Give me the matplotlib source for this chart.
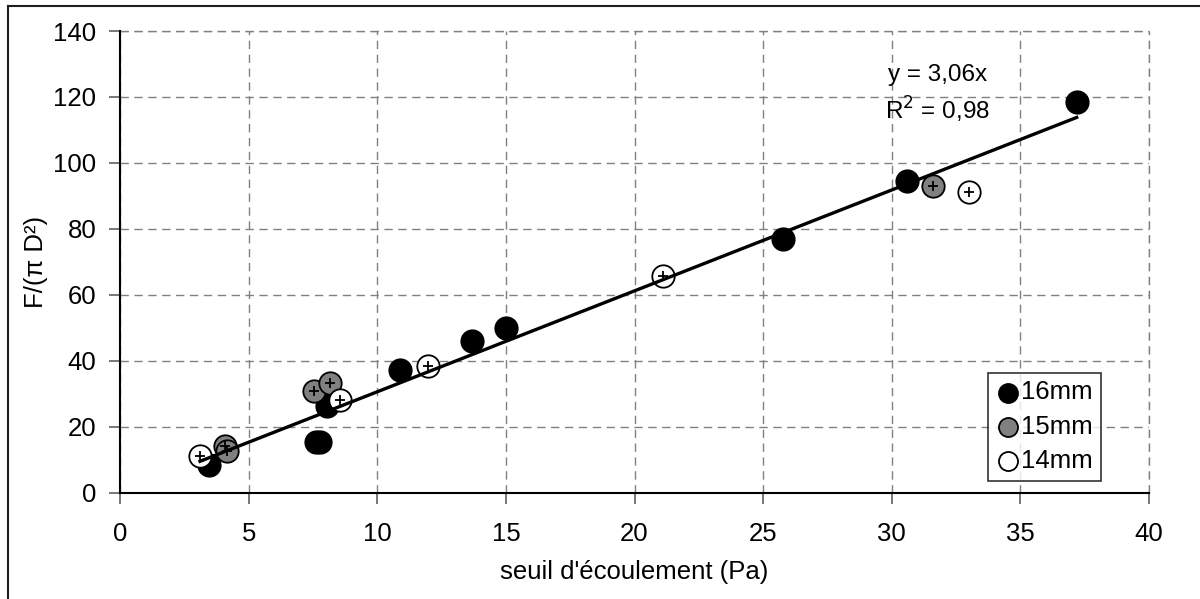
import matplotlib
matplotlib.use("Agg")
import matplotlib.pyplot as plt
from matplotlib.lines import Line2D
import numpy as np

plt.rcParams['font.family'] = ['Liberation Sans', 'DejaVu Sans']

# 16mm (black)
x16 = [3.47, 7.63, 7.79, 8.04, 10.89, 13.70, 15.00, 25.77, 30.59, 37.19]
y16 = [8.5, 15.4, 15.4, 26.2, 37.3, 45.9, 49.9, 76.9, 94.5, 118.6]
# 15mm (grey)
x15 = [4.09, 4.15, 7.54, 8.16, 31.60]
y15 = [14.2, 12.5, 30.7, 33.3, 93.0]
# 14mm (white)
x14 = [3.11, 8.55, 11.99, 21.09, 32.99]
y14 = [11.0, 28.2, 38.5, 65.8, 91.3]

slope = 3.06
r2_text = "0,98"
xticks = [0, 5, 10, 15, 20, 25, 30, 35, 40]
yticks = [0, 20, 40, 60, 80, 100, 120, 140]

FS = 18.5

fig = plt.figure(figsize=(12, 5.99), dpi=100)
ax = fig.add_axes([0.1, 0.1775, 0.8575, 0.7707])

ax.set_xlim(0, 40)
ax.set_ylim(0, 140)
ax.set_xticks(xticks)
ax.set_yticks(yticks)

ax.grid(True, color='#808080', linestyle=(0, (6, 4)), linewidth=1.0)
ax.set_axisbelow(True)
for s in ['top', 'right']:
    ax.spines[s].set_visible(False)
for s in ['left', 'bottom']:
    ax.spines[s].set_linewidth(1.5)
    ax.spines[s].set_color('black')
ax.axhline(140, color='#808080', linestyle=(0, (6, 4)), linewidth=1.0, zorder=0.5, clip_on=False)
ax.axvline(40, color='#808080', linestyle=(0, (6, 4)), linewidth=1.0, zorder=0.5, clip_on=False)

ax.tick_params(axis='both', direction='out', length=8, width=1.2, color='#606060',
               labelsize=FS)
ax.tick_params(axis='y', pad=9)
ax.tick_params(axis='x', pad=13)

kw = dict(s=260, edgecolors='black', linewidths=1.3, zorder=3)
ax.scatter(x16, y16, c='black', label='16mm', **kw)
ax.scatter(x15, y15, c='#808080', label='15mm', **kw)
ax.scatter(x14, y14, c='white', label='14mm', **kw)
ax.scatter(x15 + x14, y15 + y14, marker='+', c='black', s=45, linewidths=1.3, zorder=4)

allx = np.array(x16 + x15 + x14)
xl = np.array([allx.min(), allx.max()])
ax.plot(xl, slope * xl, color='black', linewidth=2.4, zorder=3.5)

ax.text(31.77, 126.7, "y = 3,06x", fontsize=17.5, ha='center', va='center')
ax.text(31.77, 116.1, r"R$^2$ = " + r2_text, fontsize=17.5, ha='center', va='center')

ax.set_xlabel("seuil d'écoulement (Pa)", fontsize=FS, labelpad=10)
ax.set_ylabel("F/(π D²)", fontsize=FS, labelpad=4)

leg = ax.legend(loc='lower right', bbox_to_anchor=(0.953, 0.026), fontsize=FS,
                frameon=True, fancybox=False, shadow=False, markerscale=0.85,
                handletextpad=0.0, borderpad=0.3, labelspacing=0.4,
                handlelength=1.0, borderaxespad=0)
leg.get_frame().set_edgecolor('black')
leg.get_frame().set_linewidth(1.2)

# outer frame
fig.add_artist(Line2D([8/1200, 1.0], [1 - 6/599, 1 - 6/599], transform=fig.transFigure,
                      color='#202020', linewidth=1.5))
fig.add_artist(Line2D([8/1200, 8/1200], [0, 1 - 6/599], transform=fig.transFigure,
                      color='#202020', linewidth=1.5))

fig.savefig("out.png", dpi=100)
